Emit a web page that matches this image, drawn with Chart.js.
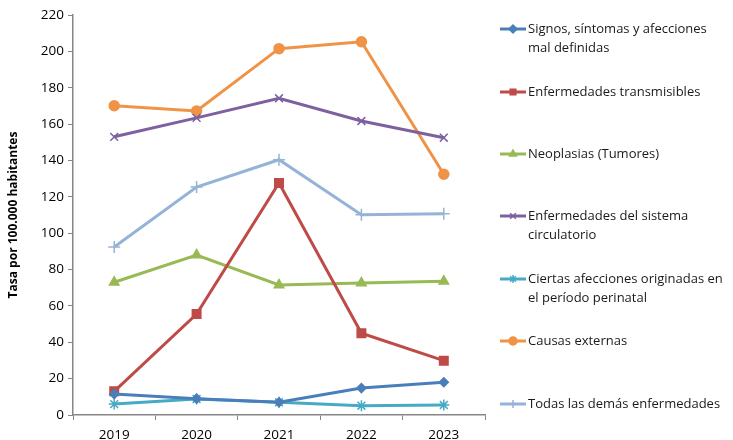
<!DOCTYPE html>
<html>
<head>
<meta charset="utf-8">
<script src="https://cdn.jsdelivr.net/npm/chart.js@4/dist/chart.umd.min.js"></script>
<style>
html,body{margin:0;padding:0;background:#fff;}
#wrap{width:733px;height:440px;position:relative;}
</style>
</head>
<body>
<div id="wrap"><canvas id="c" width="733" height="440"></canvas></div>
<script>
const years = ["2019","2020","2021","2022","2023"];
const signos = [11.5, 9, 7, 14.8, 18];
const transmisibles = [13, 55.5, 127.6, 45, 29.9];
const neoplasias = [73, 88, 71.5, 72.6, 73.5];
const circulatorio = [153, 163.4, 174.2, 161.7, 152.5];
const perinatal = [6, 8.8, 7, 5.1, 5.5];
const externas = [170.1, 167.2, 201.5, 205.3, 132.4];
const todas = [92.4, 125.4, 140.4, 110.2, 110.7];
const yTicks = [0,20,40,60,80,100,120,140,160,180,200,220];

const labels = [
  ["Signos, síntomas y afecciones","mal definidas"],
  ["Enfermedades transmisibles"],
  ["Neoplasias (Tumores)"],
  ["Enfermedades del sistema","circulatorio"],
  ["Ciertas afecciones originadas en","el período perinatal"],
  ["Causas externas"],
  ["Todas las demás enfermedades"]
];
const FONT = "'Open Sans', sans-serif";

function ds(label, data, color, style, r){
  return {label: label.join(' '), lines: label, data, borderColor: color, backgroundColor: color,
    pointStyle: style, pointRadius: r, pointHoverRadius: r, pointBorderWidth: 1.5, borderWidth: 3, tension: 0};
}
const datasets = [
  ds(labels[0], signos, "#4A7EBB", "rectRot", 4.5),
  ds(labels[1], transmisibles, "#BE4B48", "rect", 6),
  ds(labels[2], neoplasias, "#98B954", "triangle", 5.5),
  ds(labels[3], circulatorio, "#7D60A0", "crossRot", 5.5),
  ds(labels[4], perinatal, "#46AAC5", "star", 5.5),
  ds(labels[5], externas, "#F09346", "circle", 5),
  ds(labels[6], todas, "#95B3D7", "cross", 6)
];

const legendRows = [29, 92, 154, 216, 279, 341, 404];
const legendPlugin = {
  id: 'customLegend',
  afterDraw(chart){
    const ctx = chart.ctx;
    ctx.save();
    chart.data.datasets.forEach((d, i) => {
      const y = legendRows[i];
      ctx.strokeStyle = d.borderColor;
      ctx.lineWidth = 3;
      ctx.beginPath(); ctx.moveTo(500, y); ctx.lineTo(526, y); ctx.stroke();
      ctx.fillStyle = d.backgroundColor;
      ctx.strokeStyle = d.borderColor;
      ctx.lineWidth = 1.5;
      Chart.helpers.drawPoint(ctx, {pointStyle: d.pointStyle, radius: Math.min(d.pointRadius, 4), rotation: 0, borderWidth: 1.5}, 513, y);
      ctx.fillStyle = "#1a1a1a";
      ctx.font = "13px " + FONT;
      ctx.textBaseline = "middle";
      d.lines.forEach((t, j) => ctx.fillText(t, 528, y + j * 19));
    });
    ctx.restore();
  }
};

new Chart(document.getElementById('c'), {
  type: 'line',
  data: { labels: years, datasets },
  options: {
    responsive: false,
    animation: false,
    layout: { padding: { top: 15, right: 248, left: 6, bottom: 0 } },
    plugins: { legend: { display: false }, tooltip: { enabled: false } },
    scales: {
      x: {
        offset: true,
        grid: { display: true, drawOnChartArea: false, drawTicks: true, tickLength: 5, color: "#868686", offset: true },
        border: { color: "#868686", width: 1.5 },
        ticks: { color: "#000", font: { family: FONT, size: 13.5 }, padding: 7 },
        afterFit(s){ s.height = 25; }
      },
      y: {
        min: 0, max: 220,
        afterBuildTicks(s){ s.ticks = yTicks.map(v => ({value: v})); },
        grid: { display: true, drawOnChartArea: false, drawTicks: true, tickLength: 5, color: "#868686" },
        border: { color: "#868686", width: 1.5 },
        ticks: { color: "#000", font: { family: FONT, size: 13.5 }, padding: 4 },
        title: { display: true, text: "Tasa por 100.000 habitantes", color: "#000", font: { family: FONT, size: 12, weight: "bold" }, padding: { top: 0, bottom: 4 } },
        afterFit(s){ s.width = 67; }
      }
    }
  },
  plugins: [legendPlugin]
});
</script>
</body>
</html>
